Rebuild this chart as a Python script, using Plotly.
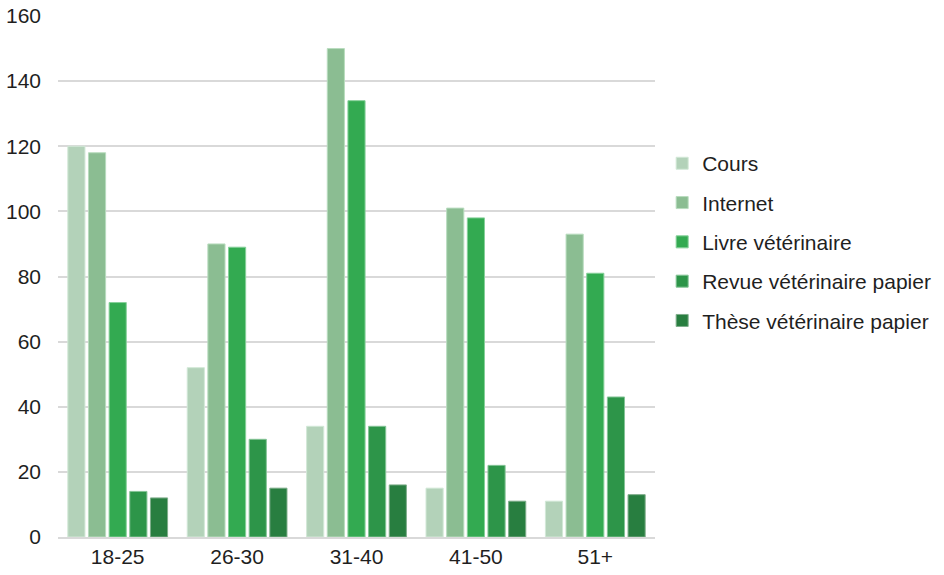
import plotly.graph_objects as go

# Age groups and the number of answers per information source
age_groups = ["18-25", "26-30", "31-40", "41-50", "51+"]
sources = ["Cours", "Internet", "Livre vétérinaire",
           "Revue vétérinaire papier", "Thèse vétérinaire papier"]
cours = [120, 52, 34, 15, 11]
internet = [118, 90, 150, 101, 93]
livre = [72, 89, 134, 98, 81]
revue = [14, 30, 34, 22, 43]
these = [12, 15, 16, 11, 13]
y_ticks = [0, 20, 40, 60, 80, 100, 120, 140, 160]

series = [cours, internet, livre, revue, these]
fills = ["#b3d2b9", "#8bbd92", "#33aa51", "#2d9549", "#287e40"]
edges = ["#d2e8d7", "#b8dcbe", "#86d09a", "#85c497", "#7fae8b"]

fig = go.Figure()
for name, vals, fc, ec in zip(sources, series, fills, edges):
    fig.add_trace(go.Bar(
        x=age_groups, y=vals, name=name, legendgroup=name,
        marker=dict(color=fc, line=dict(color=ec, width=1)),
    ))

font = "Liberation Sans, Arial, sans-serif"
fig.update_layout(
    width=944, height=575,
    margin=dict(l=58, r=289, t=16, b=38, autoexpand=False),
    plot_bgcolor="white", paper_bgcolor="white",
    barmode="group", bargap=0.135, bargroupgap=0.17,
    font=dict(family=font, size=21, color="#1f1f1f"),
    legend=dict(x=1.012, y=0.566, xanchor="left", yanchor="middle",
                tracegroupgap=9, font=dict(size=21, color="#1f1f1f"),
                itemwidth=30),
    xaxis=dict(showgrid=False, showline=True, linecolor="#d9d9d9", linewidth=2,
               ticks="", tickfont=dict(size=21), automargin=False),
    yaxis=dict(range=[0, 160], tickvals=y_ticks, showgrid=True,
               gridcolor="#d9d9d9", gridwidth=2, zeroline=False,
               ticks="", ticklabelstandoff=16, tickfont=dict(size=21),
               automargin=False),
)

fig.write_html("out.html")
